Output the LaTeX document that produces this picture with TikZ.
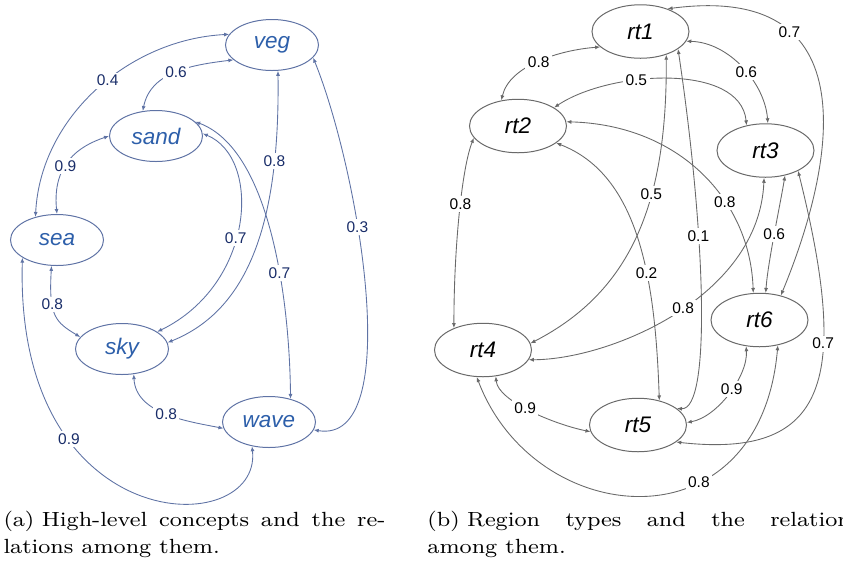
\documentclass[tikz,border=0pt]{standalone}
\usepackage{fontspec}
\newfontfamily\arialfont{Liberation Sans}
\usetikzlibrary{shapes.geometric,arrows.meta}
\definecolor{LinkBlue}{RGB}{95,115,165}
\definecolor{NameBlue}{RGB}{45,95,170}
\definecolor{WtNavy}{RGB}{25,45,105}
\definecolor{LinkGray}{RGB}{105,105,105}
\tikzset{
  cpt/.style={ellipse,draw=LinkBlue,line width=0.4pt,minimum width=37.2pt,minimum height=20.4pt,
    inner sep=0pt,font=\arialfont\itshape\fontsize{9}{10}\selectfont,text=NameBlue},
  reg/.style={ellipse,draw=LinkGray,line width=0.4pt,minimum width=38.8pt,minimum height=21.4pt,
    inner sep=0pt,font=\arialfont\itshape\fontsize{9}{10}\selectfont,text=black},
  link/.style={draw=LinkBlue,line width=0.35pt,<->,>={Latex[length=2pt,width=1.6pt]}},
  rlink/.style={link,draw=LinkGray},
  wt/.style={fill=white,inner sep=1pt,font=\arialfont\fontsize{6.2}{7}\selectfont,text=WtNavy},
  rwt/.style={wt,text=black},
  capline/.style={anchor=base west,inner sep=0pt,font=\fontsize{8.2}{9.5}\selectfont},
}

\begin{document}
\begin{tikzpicture}[x=0.4pt,y=-0.4pt]
\useasboundingbox (0,0) rectangle (843,563);
\node[cpt] (veg) at (272,45) {veg};
\node[cpt] (sand) at (156,136) {sand};
\node[cpt] (sea) at (57,240) {sea};
\node[cpt] (sky) at (122,349) {sky};
\node[cpt] (wave) at (269,422) {wave};
\draw[link] (sea.133) .. controls +(5,-100) and +(-100,5) .. (veg.166) node[wt,pos=0.55] {0.4};
\draw[link] (sand.118) .. controls +(8,-40) and +(-40,5) .. (veg.201) node[wt,pos=0.5] {0.6};
\draw[link] (sea.90) .. controls +(-5,-50) and +(-30,10) .. (sand.180) node[wt,pos=0.42] {0.9};
\draw[link] (sea.258) .. controls +(-3,50) and +(-25,-15) .. (sky.164) node[wt,pos=0.35] {0.8};
\draw[link] (sea.207) .. controls +(-8,283) and +(10,95) .. (wave.235) node[wt,pos=0.295] {0.9};
\draw[link] (sky.295) .. controls +(2,40) and +(-35,-7) .. (wave.188) node[wt,pos=0.5] {0.8};
\draw[link] (sand.3) .. controls +(59,24) and +(98,-48) .. (sky.26) node[wt,pos=0.56] {0.7};
\draw[link] (veg.283) .. controls +(2,150) and +(82,-33) .. (sky.8) node[wt,pos=0.22] {0.8};
\draw[link] (sand.20) .. controls +(75,28) and +(-1,-99) .. (wave.47) node[wt,pos=0.62] {0.7};
\draw[link] (veg.343) .. controls +(46,114) and +(92,15) .. (wave.350) node[wt,pos=0.37] {0.3};
\node[reg] (rt1) at (640.5,31.5) {rt1};
\node[reg] (rt2) at (518,126) {rt2};
\node[reg] (rt3) at (765.5,150.5) {rt3};
\node[reg] (rt4) at (483,350) {rt4};
\node[reg] (rt5) at (638,425) {rt5};
\node[reg] (rt6) at (759.5,320) {rt6};
\draw[rlink] (rt2.123) .. controls +(8,-35) and +(-40,3) .. (rt1.201) node[rwt,pos=0.5] {0.8};
\draw[rlink] (rt2.27) .. controls +(55,-37) and +(-6,-63) .. (rt3.127) node[rwt,pos=0.37] {0.5};
\draw[rlink] (rt1.348) .. controls +(43,1) and +(-3,-40) .. (rt3.85) node[rwt,pos=0.55] {0.6};
\draw[rlink] (rt1.40) .. controls +(212,-28) and +(47,-113) .. (rt6.49) node[rwt,pos=0.28] {0.7};
\draw[rlink] (rt2.195) .. controls +(-12,30) and +(0,-80) .. (rt4.143) node[rwt,pos=0.45] {0.8};
\draw[rlink] (rt1.318) .. controls +(1,145) and +(103,-53) .. (rt4.8) node[rwt,pos=0.37] {0.5};
\draw[rlink] (rt1.335) .. controls +(27,181) and +(35,2) .. (rt5.23) node[rwt,pos=0.36] {0.1};
\draw[rlink] (rt2.5) .. controls +(113,3) and +(-3,-93) .. (rt6.103) node[rwt,pos=0.64] {0.8};
\draw[rlink] (rt2.336) .. controls +(83,32) and +(-4,-120) .. (rt5.49) node[rwt,pos=0.62] {0.2};
\draw[rlink] (rt3.267) .. controls +(-5,120) and +(80,0) .. (rt4.348) node[rwt,pos=0.47] {0.8};
\draw[rlink] (rt3.308) .. controls +(-5,30) and +(2,-30) .. (rt6.77) node[rwt,pos=0.5] {0.6};
\draw[rlink] (rt3.328) .. controls +(52,208) and +(152,17) .. (rt5.336) node[rwt,pos=0.35] {0.7};
\draw[rlink] (rt4.296) .. controls +(2,25) and +(-35,-7) .. (rt5.188) node[rwt,pos=0.45] {0.9};
\draw[rlink] (rt4.257) .. controls +(58,153) and +(-18,205) .. (rt6.306) node[rwt,pos=0.65] {0.8};
\draw[rlink] (rt6.243) .. controls +(2,30) and +(30,-5) .. (rt5.3) node[rwt,pos=0.45] {0.9};
\node[capline] (capa1) at (3,526) {\scalebox{1.11}[1]{\makebox[137.6pt][s]{(a)\hspace{2.7pt}High-level concepts and the re-}}};
\node[capline] (capa2) at (3,553) {\scalebox{1.11}[1]{lations among them.}};
\node[capline] (capb1) at (427,526) {\scalebox{1.11}[1]{\makebox[156pt][s]{(b)\hspace{2.7pt}Region types and the relations}}};
\node[capline] (capb2) at (427,553) {\scalebox{1.11}[1]{among them.}};
\end{tikzpicture}
\end{document}
